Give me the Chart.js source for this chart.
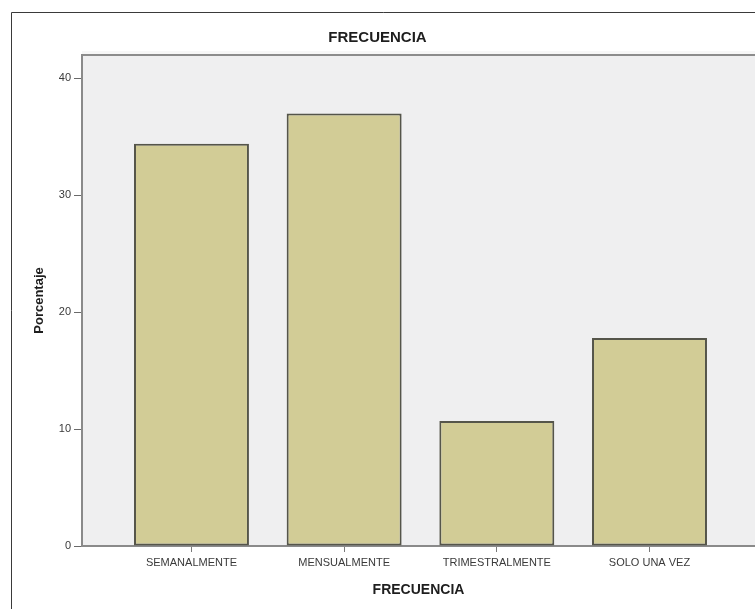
<!DOCTYPE html>
<html>
<head>
<meta charset="utf-8">
<title>FRECUENCIA</title>
<script src="https://cdn.jsdelivr.net/npm/chart.js@4/dist/chart.umd.min.js"></script>
<style>
  html, body { margin: 0; padding: 0; background: #ffffff; overflow: hidden; }
  #wrap { position: relative; width: 755px; height: 609px; }
</style>
</head>
<body>
<div id="wrap"><canvas id="chart" width="755" height="609"></canvas></div>
<script>
// Categories and percentages
const categories = ['SEMANALMENTE', 'MENSUALMENTE', 'TRIMESTRALMENTE', 'SOLO UNA VEZ'];
const porcentajes = [34.4, 37.0, 10.7, 17.8];
const yTicks = [0, 10, 20, 30, 40];

const FONT = "'Liberation Sans', Arial, sans-serif";

// Outer frame, plot background and top rule of the plot area
const framePlugin = {
  id: 'frame',
  beforeDraw(chart) {
    const { ctx, chartArea: a, width, height } = chart;
    ctx.save();
    ctx.fillStyle = '#ffffff';
    ctx.fillRect(0, 0, width, height);
    ctx.strokeStyle = '#3a3a3a';
    ctx.lineWidth = 1;
    ctx.beginPath();
    ctx.moveTo(11.5, height);
    ctx.lineTo(11.5, 12.5);
    ctx.lineTo(width, 12.5);
    ctx.stroke();
    ctx.fillStyle = '#efeff0';
    ctx.fillRect(a.left, a.top, a.right - a.left, a.bottom - a.top);
    ctx.fillStyle = '#f7f7f7';
    ctx.fillRect(a.left, a.top - 4, a.right - a.left, 3);
    ctx.strokeStyle = '#8c8c8c';
    ctx.lineWidth = 2;
    ctx.beginPath();
    ctx.moveTo(a.left - 1, a.top);
    ctx.lineTo(a.right, a.top);
    ctx.stroke();
    ctx.restore();
  }
};

new Chart(document.getElementById('chart'), {
  type: 'bar',
  data: {
    datasets: [{
      data: porcentajes.map((v, i) => ({ x: i, y: v })),
      backgroundColor: '#d2cc96',
      borderColor: '#55554a',
      borderWidth: 2,
      borderSkipped: false,
      categoryPercentage: 1,
      barPercentage: 0.753
    }]
  },
  plugins: [framePlugin],
  options: {
    responsive: false,
    animation: false,
    layout: { padding: 0 },
    plugins: {
      legend: { display: false },
      tooltip: { enabled: false },
      title: {
        display: true,
        text: 'FRECUENCIA',
        color: '#1e1e1e',
        font: { family: FONT, size: 15, weight: 'bold', lineHeight: 1.2 },
        padding: { top: 29, bottom: 8 }
      }
    },
    scales: {
      x: {
        type: 'linear',
        offset: false,
        min: -0.717,
        max: 3.691,
        afterBuildTicks(scale) {
          scale.ticks = categories.map((_, i) => ({ value: i }));
        },
        afterFit(scale) { scale.height = 63; },
        grid: {
          offset: false,
          drawOnChartArea: false,
          drawTicks: true,
          tickLength: 6,
          color: '#7a7a7a'
        },
        border: { display: true, color: '#8a8a8a', width: 2 },
        ticks: {
          autoSkip: false,
          maxRotation: 0,
          padding: 4,
          color: '#3a3a3a',
          font: { family: FONT, size: 11 },
          callback: (v) => categories[v] ?? ''
        },
        title: {
          display: true,
          text: 'FRECUENCIA',
          color: '#1e1e1e',
          font: { family: FONT, size: 14, weight: 'bold', lineHeight: 1.2 },
          padding: { top: 0, bottom: 10 }
        }
      },
      y: {
        min: 0,
        max: 42,
        afterBuildTicks(scale) {
          scale.ticks = yTicks.map(v => ({ value: v }));
        },
        afterFit(scale) { scale.width = 82; },
        grid: {
          drawOnChartArea: false,
          drawTicks: true,
          tickLength: 8,
          color: '#6a6a6a'
        },
        border: { display: true, color: '#8a8a8a', width: 2 },
        ticks: {
          padding: 3,
          color: '#3a3a3a',
          font: { family: FONT, size: 11 }
        },
        title: {
          display: true,
          text: 'Porcentaje',
          color: '#1e1e1e',
          font: { family: FONT, size: 13, weight: 'bold', lineHeight: 1.2 },
          padding: { top: 32, bottom: 0 }
        }
      }
    }
  }
});
</script>
</body>
</html>
